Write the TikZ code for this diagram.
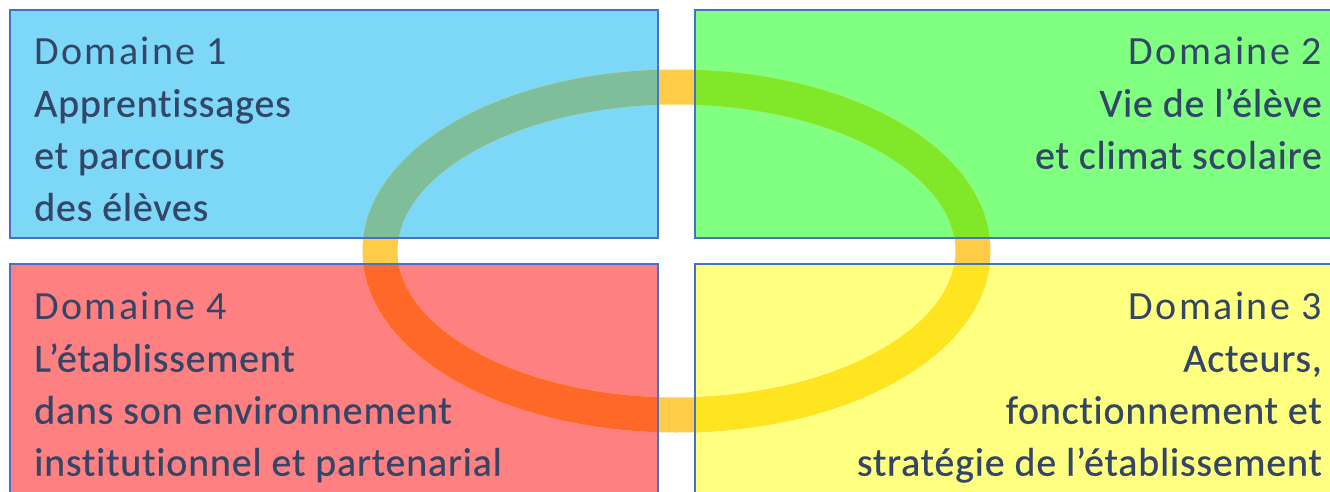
\documentclass[tikz,border=0pt]{standalone}
\usepackage{fontspec}
\usepackage{tikz}
\usepackage{xcolor}
\setmainfont{Carlito}[Ligatures=NoCommon, LetterSpace=6]
\newfontfamily\corpsfont{Carlito}[Ligatures=NoCommon, FakeBold=0.5, LetterSpace=2]
\definecolor{fondbleu}{RGB}{125,215,247}
\definecolor{fondvert}{RGB}{128,255,128}
\definecolor{fondrouge}{RGB}{255,128,128}
\definecolor{fondjaune}{RGB}{255,255,128}
\definecolor{anneau}{RGB}{255,204,72}
\definecolor{anneaubleu}{RGB}{126,190,155}
\definecolor{anneauvert}{RGB}{128,232,40}
\definecolor{anneaurouge}{RGB}{255,104,40}
\definecolor{anneaujaune}{RGB}{255,228,32}
\definecolor{bordure}{RGB}{68,114,196}
\definecolor{texte}{RGB}{52,70,104}

\begin{document}
\begin{tikzpicture}[x=1pt,y=-1pt,
	domaine/.style={rectangle, inner sep=0pt, outer sep=0pt},
	cadre/.style={draw=bordure, line width=1.6pt},
	ring/.style={line width=35pt},
	titre/.style={inner sep=0pt, text=texte, font=\fontsize{40}{52}\selectfont}]
				\useasboundingbox (0,0) rectangle (1330,492);
				\clip (0,0) rectangle (1330,492);
				% les quatre domaines
				\node[domaine, fill=fondbleu, minimum width=648pt, minimum height=228pt] (d1) at (334,124) {};
				\node[domaine, fill=fondvert, minimum width=650pt, minimum height=228pt] (d2) at (1020,124) {};
				\node[domaine, fill=fondjaune, minimum width=650pt, minimum height=246pt] (d3) at (1020,387) {};
				\node[domaine, fill=fondrouge, minimum width=648pt, minimum height=246pt] (d4) at (334,387) {};
				% anneau
				\coordinate (centre) at (676.5,251);
				\draw[ring, anneau] (centre) ellipse [x radius=296.5, y radius=164];
				\foreach \d/\c in {d1/anneaubleu, d2/anneauvert, d3/anneaujaune, d4/anneaurouge}{
					\begin{scope}
						\clip (\d.north west) rectangle (\d.south east);
						\draw[ring, \c] (centre) ellipse [x radius=296.5, y radius=164];
					\end{scope}
				}
				\foreach \d in {d1,d2,d3,d4}
					\draw[cadre] (\d.north west) rectangle (\d.south east);
				% textes
				\node[titre, anchor=north west, align=left] (t1) at (34,37) {Domaine 1\\
					{\corpsfont Apprentissages}\\{\corpsfont et parcours}\\{\corpsfont des élèves}};
				\node[titre, anchor=north east, align=right] (t2) at (1322,37) {Domaine 2\\
					{\corpsfont Vie de l’élève}\\{\corpsfont et climat scolaire}};
				\node[titre, anchor=north east, align=right] (t3) at (1322,292) {Domaine 3\\
					{\corpsfont Acteurs,}\\{\corpsfont fonctionnement et}\\{\corpsfont stratégie de l’établissement}};
				\node[titre, anchor=north west, align=left] (t4) at (34,292) {Domaine 4\\
					{\corpsfont L’établissement}\\{\corpsfont dans son environnement}\\{\corpsfont institutionnel et partenarial}};
			\end{tikzpicture}
\end{document}
